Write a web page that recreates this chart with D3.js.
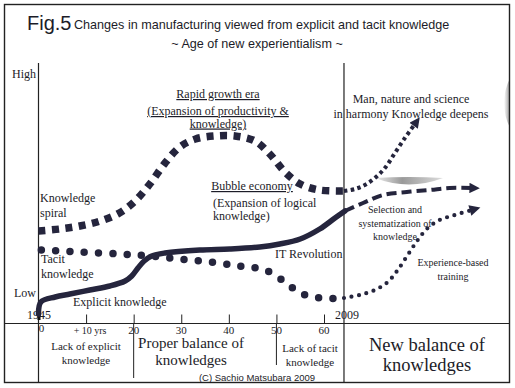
<!DOCTYPE html>
<html>
<head>
<meta charset="utf-8">
<script src="https://cdn.jsdelivr.net/npm/d3@7"></script>
<style>
  body { margin: 0; background: #fff; }
  text { font-family: "Liberation Serif", "Times New Roman", serif; fill: #1c1c28; }
  .sans { font-family: "Liberation Sans", Arial, sans-serif; }
</style>
</head>
<body>
<div id="container"></div>
<script>
const width = 515;
const height = 388;
const ink = "#25253d";

// years after 1945 (x) and knowledge level 0..100 (y)
const tickYears = [0, 10, 20, 30, 40, 50, 60];
const tickLabels = ["0", "+ 10 yrs", "20", "30", "40", "50", "60"];

const spiralYears = [0, 4.5, 8.7, 13, 17, 20.3, 23.4, 26.6, 29.7, 33, 37, 41.3, 45.5, 48.6, 51.8, 55, 59, 64.2];
const spiralLevels = [35.6, 36.4, 37.6, 39.6, 42.8, 47.6, 54.4, 62.8, 69.2, 72.4, 73.6, 73.6, 71.6, 66.4, 59.2, 54.4, 52, 51.6];

const tacitYears = [0.6, 8.7, 17.1, 23.4, 29.7, 36, 42.3, 47.6, 51.8, 55, 59.1, 64.2];
const tacitLevels = [28, 27.2, 26.4, 25.6, 24.4, 23.2, 21.6, 20, 15.2, 10.8, 8.8, 8.8];

const explicitYears = [0, 0.5, 3.5, 6.6, 10.8, 15, 18.2, 19.6, 20.9, 22.2, 23.8, 26.6, 33.9, 40.2, 46.5, 50.7, 55, 59.1, 62.3, 64.4];
const explicitLevels = [2.4, 7.2, 9.2, 10.4, 12, 13.6, 15.6, 17.6, 20.8, 23.6, 25.6, 26.8, 28, 28.4, 29.2, 30.4, 32.4, 36.4, 40.8, 43.6];

const deepenYears = [64.2, 66.5, 68.6, 70.7, 72.8, 74.9, 77, 79.1];
const deepenLevels = [51.6, 52.4, 54, 56.8, 60.8, 66.8, 72.8, 78.4];

const selectionYears = [64.4, 68.2, 72.4, 77.4, 82.2, 86.4, 91];
const selectionLevels = [43.6, 46.8, 50, 51.2, 52, 52.8, 52.8];

const trainingYears = [64.2, 67.5, 70.7, 73.4, 75.5, 77.6, 79.7, 81.8, 84.3, 87.5, 91.1];
const trainingLevels = [8.8, 10, 12, 15.2, 20, 26, 32, 36.8, 40, 42, 44];

const svg = d3.select("#container")
    .append("svg")
    .attr("width", width)
    .attr("height", height)
    .attr("viewBox", [0, 0, width, height]);

const x = d3.scaleLinear().domain([0, 60]).range([38.5, 324]);
const y = d3.scaleLinear().domain([0, 100]).range([320, 70]);

const defs = svg.append("defs");
defs.append("marker")
    .attr("id", "head")
    .attr("viewBox", "0 0 10 10")
    .attr("refX", 2).attr("refY", 5)
    .attr("markerWidth", 3.4).attr("markerHeight", 2.6)
    .attr("markerUnits", "strokeWidth")
    .attr("orient", "auto")
    .append("path").attr("d", "M0,0L10,5L0,10Z").attr("fill", ink);

const g1 = defs.append("linearGradient").attr("id", "lens").attr("x1", 0).attr("x2", 1);
g1.append("stop").attr("offset", 0).attr("stop-color", "#eee");
g1.append("stop").attr("offset", 0.4).attr("stop-color", "#999");
g1.append("stop").attr("offset", 1).attr("stop-color", "#ddd");
const g2 = defs.append("linearGradient").attr("id", "edge").attr("x1", 0).attr("x2", 1);
g2.append("stop").attr("offset", 0).attr("stop-color", "#fff");
g2.append("stop").attr("offset", 1).attr("stop-color", "#999");

// decorative grey shapes
svg.append("path")
    .attr("d", "M375,178 Q409,176 443,178 Q409,191 375,178Z")
    .attr("fill", "url(#lens)");
svg.append("path")
    .attr("d", "M510,78 Q498,103 510,128Z")
    .attr("fill", "url(#edge)");

// frame and axes
svg.append("rect")
    .attr("x", 4.5).attr("y", 4.5).attr("width", 505).attr("height", 378)
    .attr("fill", "none").attr("stroke", "#222").attr("stroke-width", 1.4);
svg.append("line").attr("x1", x(0)).attr("x2", x(0)).attr("y1", 63).attr("y2", 383)
    .attr("stroke", "#222").attr("stroke-width", 1.2);
svg.append("line").attr("x1", x(64.2)).attr("x2", x(64.2)).attr("y1", 63).attr("y2", 383)
    .attr("stroke", "#222").attr("stroke-width", 1.2);
svg.append("line").attr("x1", 4).attr("x2", 510).attr("y1", 323.5).attr("y2", 323.5)
    .attr("stroke", "#222").attr("stroke-width", 1.2);

const axis = svg.append("g")
    .attr("transform", "translate(0,323.5)")
    .call(d3.axisTop(x).tickValues(tickYears.slice(1)).tickSize(9).tickFormat(""));
axis.select(".domain").remove();
axis.selectAll("line").attr("stroke", "#222");
svg.append("rect").attr("x", x(0) - 1).attr("y", 312).attr("width", 3).attr("height", 8).attr("fill", "#111");

svg.append("g").selectAll("text")
    .data(tickYears)
    .join("text")
    .attr("x", (d, i) => i === 0 ? x(d) + 3 : (i === 1 ? x(d) + 4 : x(d)))
    .attr("y", (d, i) => i === 0 ? 332 : 334)
    .attr("text-anchor", "middle")
    .attr("font-size", (d, i) => i === 1 ? 10 : 11)
    .text((d, i) => tickLabels[i]);

svg.append("text").attr("x", 39).attr("y", 319).attr("text-anchor", "middle").attr("font-size", 12).text("1945");
svg.append("text").attr("x", 347).attr("y", 319).attr("text-anchor", "middle").attr("font-size", 12).text("2009");
svg.append("text").attr("x", 36).attr("y", 78).attr("text-anchor", "end").attr("font-size", 12).text("High");
svg.append("text").attr("x", 36).attr("y", 297).attr("text-anchor", "end").attr("font-size", 12).text("Low");

// dividers of the bottom band
svg.append("line").attr("x1", x(20)).attr("x2", x(20)).attr("y1", 323).attr("y2", 378).attr("stroke", "#222");
svg.append("line").attr("x1", x(50)).attr("x2", x(50)).attr("y1", 323).attr("y2", 365).attr("stroke", "#222");

// curves
const line = d3.line()
    .x(d => x(d[0]))
    .y(d => y(d[1]))
    .curve(d3.curveCatmullRom.alpha(0.5));
const zipped = (xs, ys) => xs.map((v, i) => [v, ys[i]]);

svg.append("path").datum(zipped(explicitYears, explicitLevels))
    .attr("d", line).attr("fill", "none").attr("stroke", ink)
    .attr("stroke-width", 5.5).attr("stroke-linecap", "round");

svg.append("path").datum(zipped(tacitYears, tacitLevels))
    .attr("d", line).attr("fill", "none").attr("stroke", ink)
    .attr("stroke-width", 7.5).attr("stroke-linecap", "round")
    .attr("stroke-dasharray", "0,14.3");

svg.append("path").datum(zipped(spiralYears, spiralLevels))
    .attr("d", line).attr("fill", "none").attr("stroke", ink)
    .attr("stroke-width", 7.5).attr("stroke-dasharray", "7,6.5");

svg.append("path").datum(zipped(deepenYears, deepenLevels))
    .attr("d", line).attr("fill", "none").attr("stroke", ink)
    .attr("stroke-width", 4).attr("stroke-dasharray", "3.5,3.3")
    .attr("marker-end", "url(#head)");

svg.append("path").datum(zipped(selectionYears, selectionLevels))
    .attr("d", line).attr("fill", "none").attr("stroke", ink)
    .attr("stroke-width", 4).attr("stroke-dasharray", "10,5")
    .attr("marker-end", "url(#head)");

svg.append("path").datum(zipped(trainingYears, trainingLevels))
    .attr("d", line).attr("fill", "none").attr("stroke", ink)
    .attr("stroke-width", 4.2).attr("stroke-linecap", "round").attr("stroke-dasharray", "0,7.6")
    .attr("marker-end", "url(#head)");

// title
svg.append("text").attr("class", "sans").attr("x", 27).attr("y", 30).attr("font-size", 20).text("Fig.5");
svg.append("text").attr("class", "sans").attr("x", 74).attr("y", 29).attr("font-size", 12.6)
    .text("Changes in manufacturing viewed from explicit and tacit knowledge");
svg.append("text").attr("class", "sans").attr("x", 257).attr("y", 48).attr("text-anchor", "middle").attr("font-size", 12.6)
    .text("~ Age of new experientialism ~");

// annotations
function label(lines, cx, y0, size, lh, anchor, underline) {
    const t = svg.append("text")
        .attr("font-size", size)
        .attr("text-anchor", anchor || "middle")
        .attr("text-decoration", underline ? "underline" : null);
    lines.forEach((s, i) => t.append("tspan").attr("x", cx).attr("y", y0 + i * lh).text(s));
}
label(["Rapid growth era"], 218, 98, 12, 0, "middle", true);
label(["(Expansion of productivity &", "knowledge)"], 218, 115, 12, 12.5, "middle", true);
label(["Bubble economy"], 252, 190, 12, 0, "middle", true);
label(["(Expansion of logical", "knowledge)"], 213, 206.5, 12, 13, "start");
label(["Knowledge", "spiral"], 40, 202, 12, 14.5, "start");
label(["Tacit", "knowledge"], 41, 263, 12, 15, "start");
label(["Explicit knowledge"], 73, 306, 12, 0, "start");
label(["IT Revolution"], 275, 258, 12, 0, "start");
label(["Man, nature and science", "in harmony Knowledge deepens"], 411, 103, 12, 15, "middle");
label(["Selection and", "systematization of", "knowledge"], 395, 213, 10, 13.5, "middle");
label(["Experience-based", "training"], 453, 266, 10, 14, "middle");

label(["Lack of explicit", "knowledge"], 86, 350, 11, 14, "middle");
label(["Proper balance of", "knowledges"], 191, 348, 15, 17, "middle");
label(["Lack of tacit", "knowledge"], 310, 352, 11, 13.5, "middle");
label(["New balance of", "knowledges"], 427, 351, 18.5, 20, "middle");

svg.append("text").attr("class", "sans").attr("x", 257).attr("y", 381).attr("text-anchor", "middle")
    .attr("font-size", 9.5).text("(C) Sachio Matsubara 2009");
</script>
</body>
</html>
